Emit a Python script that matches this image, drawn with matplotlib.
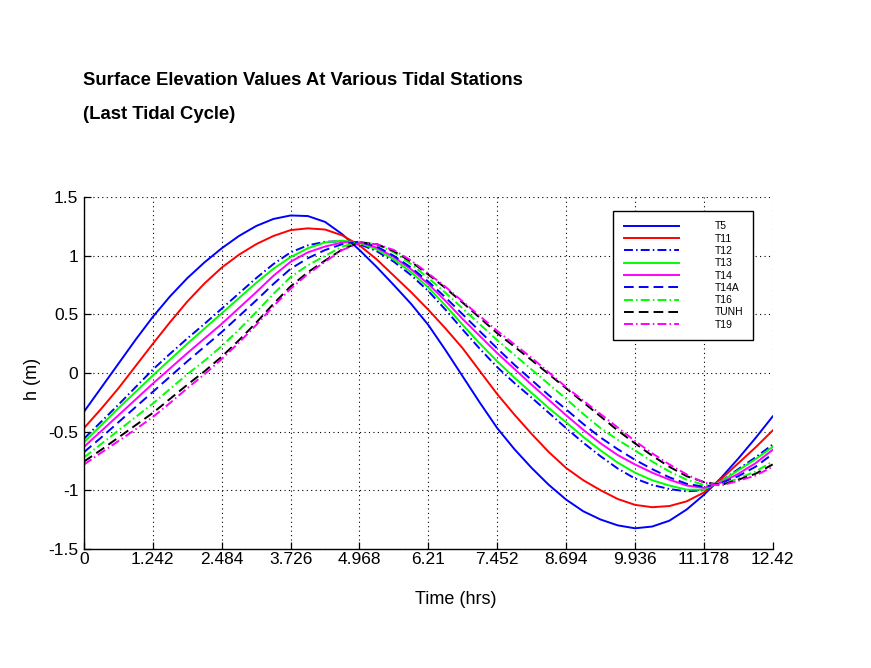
import matplotlib
matplotlib.use('Agg')
import matplotlib.pyplot as plt

# ---------------- data ----------------
hours = [0, 0.3105, 0.621, 0.9315, 1.242, 1.5525, 1.863, 2.1735, 2.484, 2.7945,
         3.105, 3.4155, 3.726, 4.0365, 4.347, 4.6575, 4.968, 5.2785, 5.589, 5.8995,
         6.21, 6.5205, 6.831, 7.1415, 7.452, 7.7625, 8.073, 8.3835, 8.694, 9.0045,
         9.315, 9.6255, 9.936, 10.2465, 10.557, 10.8675, 11.178, 11.4885, 11.799,
         12.1095, 12.42]

T5 = [-0.33, -0.125, 0.08, 0.285, 0.48, 0.655, 0.81, 0.945, 1.065, 1.17,
      1.255, 1.315, 1.345, 1.34, 1.29, 1.185, 1.05, 0.905, 0.75, 0.59,
      0.41, 0.195, -0.03, -0.255, -0.47, -0.65, -0.81, -0.955, -1.08, -1.18,
      -1.25, -1.30, -1.325, -1.31, -1.26, -1.165, -1.04, -0.895, -0.73, -0.555,
      -0.37]
T11 = [-0.47, -0.305, -0.13, 0.06, 0.25, 0.435, 0.61, 0.765, 0.90, 1.01,
       1.10, 1.17, 1.22, 1.235, 1.225, 1.175, 1.09, 0.97, 0.83, 0.69,
       0.54, 0.38, 0.21, 0.015, -0.18, -0.355, -0.52, -0.675, -0.81, -0.915,
       -1.00, -1.075, -1.125, -1.145, -1.135, -1.095, -1.02, -0.905, -0.77, -0.635,
       -0.49]
T12 = [-0.56, -0.415, -0.27, -0.12, 0.03, 0.165, 0.295, 0.42, 0.55, 0.68,
       0.81, 0.93, 1.03, 1.09, 1.12, 1.125, 1.10, 1.04, 0.95, 0.835,
       0.70, 0.54, 0.37, 0.205, 0.05, -0.085, -0.21, -0.34, -0.47, -0.595,
       -0.71, -0.815, -0.90, -0.955, -0.99, -1.01, -1.00, -0.925, -0.82, -0.72,
       -0.61]
T13 = [-0.59, -0.445, -0.30, -0.16, -0.02, 0.115, 0.25, 0.38, 0.51, 0.64,
       0.77, 0.89, 0.99, 1.065, 1.115, 1.13, 1.11, 1.055, 0.97, 0.86,
       0.73, 0.575, 0.41, 0.25, 0.10, -0.04, -0.17, -0.30, -0.42, -0.545,
       -0.66, -0.765, -0.85, -0.915, -0.96, -0.995, -0.995, -0.925, -0.83, -0.735,
       -0.63]
T14 = [-0.63, -0.495, -0.36, -0.225, -0.09, 0.04, 0.17, 0.295, 0.42, 0.555,
       0.69, 0.83, 0.95, 1.03, 1.08, 1.115, 1.12, 1.07, 0.99, 0.885,
       0.76, 0.615, 0.46, 0.315, 0.17, 0.035, -0.10, -0.23, -0.36, -0.485,
       -0.60, -0.70, -0.78, -0.85, -0.91, -0.96, -0.98, -0.935, -0.86, -0.77,
       -0.655]
T14A = [-0.675, -0.55, -0.42, -0.29, -0.16, -0.03, 0.10, 0.225, 0.35, 0.485,
        0.62, 0.76, 0.89, 0.98, 1.05, 1.10, 1.12, 1.08, 1.00, 0.90,
        0.78, 0.645, 0.50, 0.355, 0.21, 0.07, -0.06, -0.19, -0.31, -0.435,
        -0.55, -0.65, -0.74, -0.82, -0.89, -0.945, -0.97, -0.94, -0.88, -0.80,
        -0.69]
T16 = [-0.72, -0.605, -0.49, -0.375, -0.26, -0.135, -0.01, 0.105, 0.23, 0.37,
       0.52, 0.675, 0.82, 0.92, 1.00, 1.08, 1.12, 1.10, 1.03, 0.93,
       0.81, 0.685, 0.55, 0.415, 0.28, 0.155, 0.03, -0.095, -0.22, -0.35,
       -0.47, -0.57, -0.66, -0.755, -0.84, -0.91, -0.955, -0.95, -0.90, -0.84,
       -0.755]
TUNH = [-0.755, -0.655, -0.55, -0.445, -0.34, -0.22, -0.10, 0.015, 0.14, 0.28,
        0.43, 0.59, 0.74, 0.86, 0.96, 1.055, 1.115, 1.10, 1.04, 0.95,
        0.84, 0.725, 0.60, 0.47, 0.34, 0.225, 0.11, -0.01, -0.13, -0.25,
        -0.37, -0.49, -0.60, -0.705, -0.80, -0.88, -0.93, -0.955, -0.91, -0.86,
        -0.78]
T19 = [-0.78, -0.68, -0.58, -0.48, -0.375, -0.255, -0.13, -0.01, 0.12, 0.26,
       0.41, 0.57, 0.72, 0.845, 0.95, 1.05, 1.11, 1.10, 1.05, 0.96,
       0.85, 0.735, 0.61, 0.485, 0.36, 0.245, 0.13, 0.005, -0.12, -0.235,
       -0.35, -0.465, -0.58, -0.685, -0.78, -0.865, -0.935, -0.96, -0.92, -0.875,
       -0.80]

station_names = ['T5', 'T11', 'T12', 'T13', 'T14', 'T14A', 'T16', 'TUNH', 'T19']
station_values = [T5, T11, T12, T13, T14, T14A, T16, TUNH, T19]

xticks = [0, 1.242, 2.484, 3.726, 4.968, 6.21, 7.452, 8.694, 9.936, 11.178, 12.42]
xtick_labels = ['0', '1.242', '2.484', '3.726', '4.968', '6.21', '7.452',
                '8.694', '9.936', '11.178', '12.42']
yticks = [-1.5, -1, -0.5, 0, 0.5, 1, 1.5]
ytick_labels = ['-1.5', '-1', '-0.5', '0', '0.5', '1', '1.5']

title_line1 = 'Surface Elevation Values At Various Tidal Stations'
title_line2 = '(Last Tidal Cycle)'
x_label = 'Time (hrs)'
y_label = 'h (m)'

# ---------------- styles ----------------
DASHDOT = (0, (4.6, 1.6, 0.8, 1.6))
DASHED = (0, (5.0, 2.6))
colors = ['#0000ff', '#ff0000', '#0000ff', '#00ff00', '#ff00ff',
          '#0000ff', '#00ff00', '#000000', '#ff00ff']
styles = ['-', '-', DASHDOT, '-', '-', DASHED, DASHDOT, DASHED, DASHDOT]

plt.rcParams['font.family'] = ['Liberation Sans', 'DejaVu Sans']

W, H = 871, 668
fig = plt.figure(figsize=(W / 100, H / 100), dpi=100)
fig.patch.set_facecolor('white')

left, right, top, bottom = 84, 772.7, 197.3, 548.8
ax = fig.add_axes([left / W, 1 - bottom / H, (right - left) / W, (bottom - top) / H])

for name, vals, c, ls in zip(station_names, station_values, colors, styles):
    ax.plot(hours, vals, color=c, linestyle=ls, linewidth=1.4, label=name)

ax.set_xlim(0, 12.42)
ax.set_ylim(-1.5, 1.5)
ax.set_xticks(xticks)
ax.set_xticklabels(xtick_labels)
ax.set_yticks(yticks)
ax.set_yticklabels(ytick_labels)

ax.grid(True, color='black', linestyle=(0, (1, 3)), linewidth=0.8)
ax.set_axisbelow(True)
for s in ['top', 'right']:
    ax.spines[s].set_visible(False)
for s in ['left', 'bottom']:
    ax.spines[s].set_linewidth(1.0)
    ax.spines[s].set_color('black')

ax.tick_params(axis='both', direction='in', length=5, width=0.9,
               labelsize=12.5, colors='black')
ax.tick_params(axis='x', pad=2.0)
ax.tick_params(axis='y', pad=4.0)

leg = ax.legend(loc='upper left', bbox_to_anchor=(613.3 / W, 1 - 211 / H),
                bbox_transform=fig.transFigure, fontsize=7.5,
                handlelength=5.3, handletextpad=3.4, labelspacing=0.22,
                borderpad=1.0, borderaxespad=0, fancybox=False, framealpha=1,
                edgecolor='black')
leg.get_frame().set_linewidth(1.0)

fig.text(83.3 / W, 1 - 84.7 / H, title_line1, fontsize=13.3, fontweight='bold',
         ha='left', va='baseline')
fig.text(83.3 / W, 1 - 119 / H, title_line2, fontsize=13.3, fontweight='bold',
         ha='left', va='baseline')
fig.text(455.3 / W, 1 - 600 / H, x_label, fontsize=13, ha='center', va='center')
fig.text(32 / W, 1 - 379 / H, y_label, fontsize=13, rotation=90,
         ha='center', va='center')

fig.savefig('out.png', dpi=100, facecolor='white')
